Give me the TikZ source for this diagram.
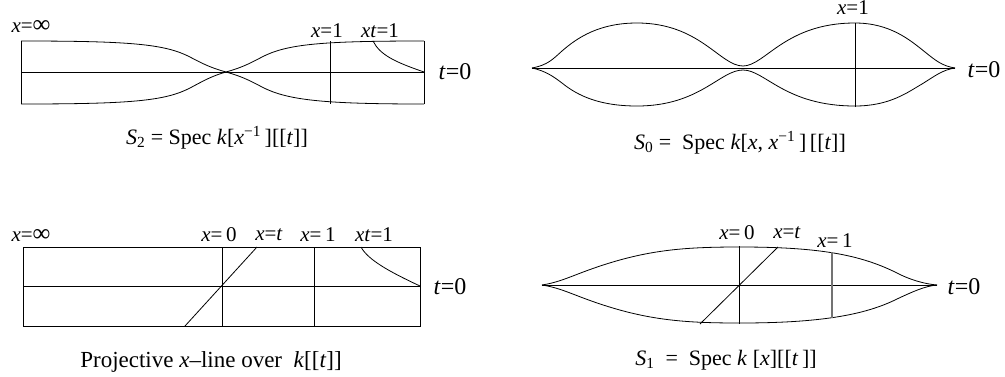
\documentclass[tikz,border=0pt]{standalone}
\usepackage{fontspec}
\setmainfont{Liberation Serif}
\newcommand\iv[1]{\textit{#1}}
\newcommand\bigINF{{\fontsize{25}{25}\selectfont ∞}}
\begin{document}
\begin{tikzpicture}[x=1pt,y=-1pt,line width=0.8pt,
  lbl/.style={font=\fontsize{21}{23}\selectfont, inner sep=0pt},
  tlbl/.style={font=\fontsize{24}{26}\selectfont, inner sep=0pt},
  captxt/.style={font=\fontsize{22}{24}\selectfont, inner sep=0pt},
  captxtb/.style={font=\fontsize{23}{25}\selectfont, inner sep=0pt},
  grayline/.style={draw=black!55, line width=1.1pt}]
\useasboundingbox (0,0) rectangle (1005,376);

% ---------- Panel 1 : S_2 ----------
\coordinate (a1) at (21,41);
\coordinate (a2) at (424,41);
\coordinate (a3) at (424,104);
\coordinate (a4) at (21,104);
\coordinate (am1) at (21,72);
\coordinate (am2) at (424,72);
\coordinate (ax) at (226,72);
\coordinate (aone1) at (330,41);
\coordinate (aone2) at (330,104);
\coordinate (axt) at (373,41);
\draw (a1) -- (a4);
\draw (a2) -- (a3);
\draw (am1) -- (am2);
\draw (a1) .. controls (130,41) and (165,44) .. (190,57)
      .. controls (205,65) and (212,68) .. (ax)
      .. controls (240,76) and (247,79) .. (262,87)
      .. controls (287,100) and (322,104) .. (a3);
\draw (a4) .. controls (130,104) and (165,101) .. (190,88)
      .. controls (205,80) and (212,76) .. (ax)
      .. controls (240,68) and (247,65) .. (262,57)
      .. controls (287,44) and (322,41) .. (a2);
\draw (aone1) -- (aone2);
\draw (axt) .. controls (380,55) and (395,62) .. (am2);
\node[lbl] (ainf) at (31,26) {\iv{x}=\bigINF};
\node[lbl] (aone) at (327,31) {\iv{x}=1};
\node[lbl] (axtl) at (380,31) {\iv{xt}=1};
\node[tlbl] (at0) at (455,72) {\iv{t}=0};
\node[captxt] (acap) at (217,138) {\iv{S}\textsubscript{2} = Spec \iv{k}[\iv{x}\textsuperscript{−1}\,][[\iv{t}]]};

% ---------- Panel 2 : S_0 ----------
\coordinate (b1) at (532,68);
\coordinate (b2) at (955,68);
\coordinate (bone1) at (855,23);
\coordinate (bone2) at (855,107);
\draw (b1) -- (b2);
\draw (b1) .. controls (548,65) and (553,59) .. (562,51)
      .. controls (578,37) and (600,23) .. (637,23)
      .. controls (700,23) and (720,66) .. (743,66)
      .. controls (765,66) and (785,23) .. (855,23)
      .. controls (890,23) and (910,40) .. (925,52)
      .. controls (935,60) and (942,66) .. (b2);
\draw (b1) .. controls (546,71) and (554,77) .. (562,83)
      .. controls (578,96) and (600,106) .. (637,106)
      .. controls (700,106) and (720,70) .. (743,70)
      .. controls (765,70) and (785,106) .. (855,106)
      .. controls (890,106) and (908,92) .. (922,84)
      .. controls (935,76) and (942,70) .. (b2);
\draw (bone1) -- (bone2);
\node[lbl] (bonel) at (853,8) {\iv{x}=1};
\node[tlbl] (bt0) at (984,70) {\iv{t}=0};
\node[captxt] (bcap) at (740,143) {\iv{S}\textsubscript{0} = \ Spec \iv{k}[\iv{x}, \iv{x}\textsuperscript{−1}\,]\,[[\iv{t}]]};

% ---------- Panel 3 : projective line ----------
\coordinate (c1) at (23,247);
\coordinate (c2) at (420,247);
\coordinate (c3) at (420,326);
\coordinate (c4) at (23,326);
\coordinate (cm1) at (23,286);
\coordinate (cm2) at (420,286);
\coordinate (cz1) at (222,247);
\coordinate (cz2) at (222,326);
\coordinate (co1) at (314,247);
\coordinate (co2) at (314,326);
\coordinate (cd1) at (185,326);
\coordinate (cd2) at (257,247);
\coordinate (cxt) at (361,247);
\draw (c1) rectangle (c3);
\draw (cm1) -- (cm2);
\draw (cz1) -- (cz2);
\draw (co1) -- (co2);
\draw (cd1) -- (cd2);
\draw (cxt) .. controls (368,260) and (390,272) .. (cm2);
\node[lbl] (cinf) at (31,235) {\iv{x}=\bigINF};
\node[lbl] (czl) at (219,235) {\iv{x}=\,0};
\node[lbl] (ctl) at (269,235) {\iv{x}=\iv{t}};
\node[lbl] (col) at (318,235) {\iv{x}=\,1};
\node[lbl] (cxtl) at (374,235) {\iv{xt}=1};
\node[tlbl] (ct0) at (450,287) {\iv{t}=0};
\node[captxtb] (ccap) at (211,362) {Projective \iv{x}–line over \ \iv{k}[[\iv{t}]]};

% ---------- Panel 4 : S_1 ----------
\coordinate (d1) at (542,285);
\coordinate (d2) at (937,285);
\coordinate (dz1) at (739,246);
\coordinate (dz2) at (739,324);
\coordinate (dd1) at (700,324);
\coordinate (dd2) at (778,247);
\coordinate (do1) at (832,252);
\coordinate (do2) at (832,318);
\draw (d1) -- (d2);
\draw (d1) .. controls (555,283) and (565,279) .. (578,274)
      .. controls (640,250) and (680,247) .. (740,247)
      .. controls (820,247) and (860,255) .. (895,272)
      .. controls (910,280) and (925,284) .. (d2);
\draw (d1) .. controls (555,287) and (565,291) .. (578,296)
      .. controls (640,320) and (680,323) .. (740,323)
      .. controls (820,323) and (865,315) .. (897,299)
      .. controls (912,292) and (925,286) .. (d2);
\draw (dz1) -- (dz2);
\draw (dd1) -- (dd2);
\draw[grayline] (do1) -- (do2);
\node[lbl] (dzl) at (737,233) {\iv{x}=\,0};
\node[lbl] (dtl) at (787,233) {\iv{x}=\iv{t}};
\node[lbl] (dol) at (835,241) {\iv{x}=\,1};
\node[tlbl] (dt0) at (964,287) {\iv{t}=0};
\node[captxt] (dcap) at (726,360) {\iv{S}\textsubscript{1} \ = \ Spec \iv{k} [\iv{x}][[\iv{t}\,]]};
\end{tikzpicture}
\end{document}
